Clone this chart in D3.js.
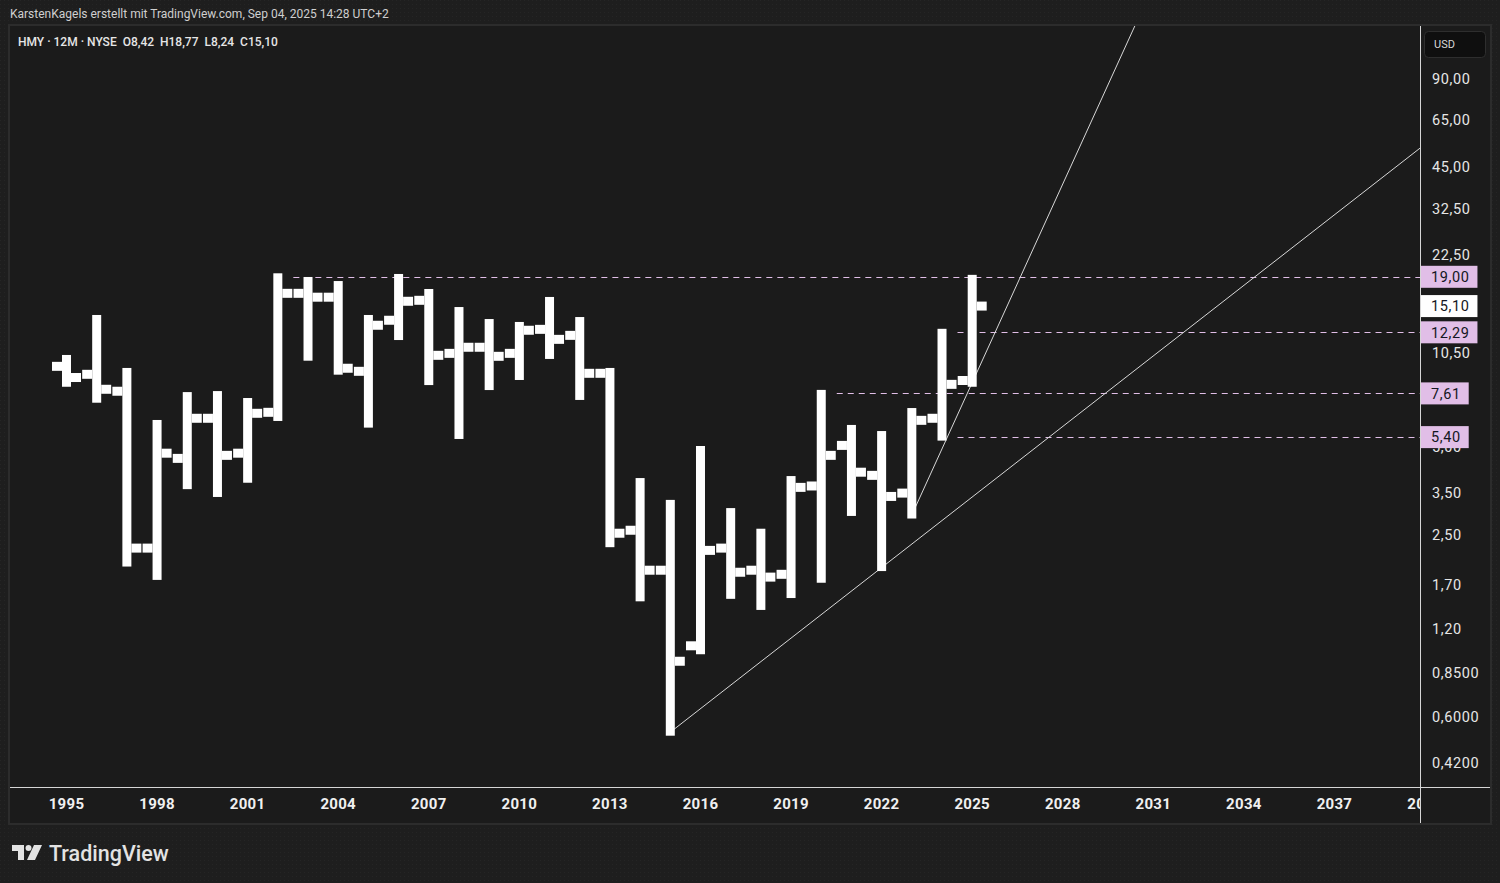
<!DOCTYPE html>
<html><head><meta charset="utf-8">
<script src="https://cdn.jsdelivr.net/npm/d3@7"></script>
<style>
html,body{margin:0;padding:0;background:#1e1e1e;overflow:hidden;}
svg{display:block;}
</style></head><body>
<svg id="c" width="1500" height="883"></svg>
<script>
// ---- data (yearly OHLC, HMY NYSE) ----
const years  = [1995,1996,1997,1998,1999,2000,2001,2002,2003,2004,2005,2006,2007,2008,2009,2010,2011,2012,2013,2014,2015,2016,2017,2018,2019,2020,2021,2022,2023,2024,2025];
const opens  = [9.41,8.84,7.74,2.26,4.57,6.26,4.76,6.56,16.69,16.19,9.05,13.51,15.80,10.42,10.93,10.42,12.58,12.00,8.91,2.60,1.90,1.05,2.26,1.90,1.84,3.68,5.06,4.00,3.48,6.26,8.42];
const highs  = [10.01,13.70,9.04,6.01,7.48,7.54,7.14,19.00,18.46,17.88,13.70,18.90,16.80,14.58,13.27,12.97,15.78,13.48,9.04,3.81,3.21,4.90,3.01,2.56,3.87,7.61,5.78,5.51,6.60,12.29,18.77];
const lows   = [8.24,7.27,2.01,1.81,3.69,3.47,3.88,6.30,10.11,9.06,5.98,11.89,8.35,5.47,8.03,8.69,10.25,7.43,2.34,1.53,0.533,1.01,1.56,1.43,1.57,1.77,2.99,1.94,2.93,5.40,8.24];
const closes = [8.62,7.86,2.26,4.76,6.26,4.68,6.51,16.69,16.19,9.27,12.99,15.68,10.26,10.93,10.18,12.49,11.63,8.91,2.54,1.90,0.93,2.22,1.87,1.80,3.64,4.68,4.10,3.39,6.16,8.17,15.10];

const priceTicks      = [90,65,45,32.5,22.5,10.5,5,3.5,2.5,1.7,1.2,0.85,0.6,0.42];
const priceTickLabels = ["90,00","65,00","45,00","32,50","22,50","10,50","5,00","3,50","2,50","1,70","1,20","0,8500","0,6000","0,4200"];
const yearTicks       = [1995,1998,2001,2004,2007,2010,2013,2016,2019,2022,2025,2028,2031,2034,2037,2040];

// horizontal level rays: price and the year they start from
const levelPrices = [19.00,12.29,7.61,5.40];
const levelFrom   = [2002,2024,2020,2024];
// price-axis tags
const tagPrices = [19.00,15.10,12.29,7.61,5.40];
const tagLabels = ["19,00","15,10","12,29","7,61","5,40"];
const tagKinds  = ["level","last","level","level","level"];
// trend lines: two anchors each (year, price), extended to the right
const trendYearA  = [2015,2023];
const trendPriceA = [0.533,2.93];
const trendYearB  = [2022,2026.58];
const trendPriceB = [1.94,18.82];

const headerText = "KarstenKagels erstellt mit TradingView.com, Sep 04, 2025 14:28 UTC+2";
const legendText = "HMY · 12M · NYSE  O8,42  H18,77  L8,24  C15,10";

// ---- layout ----
const P = {l:10, r:1420, t:26, b:787};
const svg = d3.select("#c");
const FONT = "Roboto, 'Noto Sans', sans-serif";

const x = d3.scaleLinear().domain([1995,2037]).range([66.5,66.5+42*30.19]);
const y = d3.scaleLog().domain([90,0.42]).range([78.6,78.6+Math.log(90/0.42)*127.43]);

// outer background
svg.append("rect").attr("width",1500).attr("height",883).attr("fill","#1e1e1e");
const defs = svg.append("defs");
const pat = defs.append("pattern").attr("id","dots").attr("width",4).attr("height",4).attr("patternUnits","userSpaceOnUse");
pat.append("rect").attr("width",1).attr("height",1).attr("fill","#252525");
svg.append("rect").attr("width",1500).attr("height",883).attr("fill","url(#dots)");

// frame
svg.append("rect").attr("x",9).attr("y",25).attr("width",1482).attr("height",799)
  .attr("fill","#1b1b1b").attr("stroke","#2c2c2c").attr("stroke-width",2);

defs.append("clipPath").attr("id","pane").append("rect")
  .attr("x",P.l).attr("y",P.t).attr("width",P.r-P.l).attr("height",P.b-P.t);
const pane = svg.append("g").attr("clip-path","url(#pane)");

// level rays
levelPrices.forEach((p,i)=>{
  pane.append("line")
    .attr("x1",x(levelFrom[i])+14.5+1).attr("x2",P.r)
    .attr("y1",Math.round(y(p))+0.5).attr("y2",Math.round(y(p))+0.5)
    .attr("stroke","#e1bee7").attr("stroke-width",1).attr("stroke-dasharray","6,5");
});

// trend lines
trendYearA.forEach((_,i)=>{
  const x1=x(trendYearA[i]), y1=y(trendPriceA[i]);
  const x2=x(trendYearB[i]), y2=y(trendPriceB[i]);
  const k=(y2-y1)/(x2-x1);
  const xe=1600, ye=y1+k*(xe-x1);
  pane.append("line").attr("x1",x1).attr("y1",y1).attr("x2",xe).attr("y2",ye)
    .attr("stroke","#d8d8d8").attr("stroke-width",1);
});

// OHLC bars
const bw=9, tl=10, ext=3.5;
const bars = pane.append("g").attr("fill","#ffffff");
years.forEach((yr,i)=>{
  const cx=x(yr);
  bars.append("rect").attr("x",cx-bw/2).attr("y",y(highs[i])-ext)
    .attr("width",bw).attr("height",y(lows[i])-y(highs[i])+2*ext);
  bars.append("rect").attr("x",cx-bw/2-tl).attr("y",y(opens[i])-bw/2).attr("width",tl).attr("height",bw);
  bars.append("rect").attr("x",cx+bw/2).attr("y",y(closes[i])-bw/2).attr("width",tl).attr("height",bw);
});

// axes lines
svg.append("line").attr("x1",P.r+0.5).attr("x2",P.r+0.5).attr("y1",P.t).attr("y2",823).attr("stroke","#d6d6d6");
svg.append("line").attr("x1",P.l).attr("x2",1490).attr("y1",P.b+0.5).attr("y2",P.b+0.5).attr("stroke","#d6d6d6");

// price tick labels
const pl = svg.append("g").attr("font-family",FONT).attr("font-size",14.5).attr("fill","#e6e6e6")
  .attr("letter-spacing","0.6px");
priceTicks.forEach((p,i)=>{
  pl.append("text").attr("x",1432).attr("y",y(p)).attr("dy","0.36em").text(priceTickLabels[i]);
});

// price tags
tagPrices.forEach((p,i)=>{
  const g=svg.append("g");
  const t=g.append("text").attr("x",1431).attr("y",y(p)).attr("dy","0.36em")
    .attr("font-family",FONT).attr("font-size",14.5).attr("letter-spacing","0.6px")
    .attr("fill","#131722").text(tagLabels[i]);
  const w=t.node().getComputedTextLength();
  g.insert("rect","text").attr("x",1421).attr("y",y(p)-11).attr("width",w+18).attr("height",22)
    .attr("fill",tagKinds[i]==="last"?"#ffffff":"#e1bee7");
});

// USD button
svg.append("rect").attr("x",1424.5).attr("y",31.5).attr("width",61).attr("height",26).attr("rx",4)
  .attr("fill","#0f0f0f").attr("stroke","#2e2e2e");
svg.append("text").attr("x",1434).attr("y",44.5).attr("dy","0.35em").attr("font-family",FONT)
  .attr("font-size",11).attr("fill","#d8d8d8").text("USD");

// time axis labels
defs.append("clipPath").attr("id","timeclip").append("rect").attr("x",P.l).attr("y",P.b+1).attr("width",P.r-P.l).attr("height",35);
const tg = svg.append("g").attr("clip-path","url(#timeclip)");
yearTicks.forEach(yr=>{
  tg.append("text").attr("x",x(yr)).attr("y",804).attr("dy","0.36em").attr("text-anchor","middle")
    .attr("font-family",FONT).attr("font-size",15).attr("font-weight",700).attr("letter-spacing","0.3px")
    .attr("fill","#f0f0f0").text(yr);
});

// header + legend
svg.append("text").attr("x",10).attr("y",14).attr("dy","0.35em").attr("font-family",FONT)
  .attr("font-size",12).attr("fill","#cfcfcf").text(headerText);
svg.append("text").attr("x",18).attr("y",42).attr("dy","0.35em").attr("font-family",FONT)
  .attr("font-size",12).attr("font-weight",500).attr("fill","#e6e6e6").attr("xml:space","preserve")
  .style("white-space","pre").text(legendText);

// TradingView logo
const lg = svg.append("g").attr("fill","#e3e3e3");
lg.append("path").attr("d","M12,845 H24 V860 H18 V851 H12 Z");
lg.append("circle").attr("cx",28.5).attr("cy",848).attr("r",3);
lg.append("path").attr("d","M34,845 H42 L35,860 H27 Z");
svg.append("text").attr("x",49).attr("y",853).attr("dy","0.36em").attr("font-family",FONT)
  .attr("font-size",21.5).attr("font-weight",500).attr("fill","#e3e3e3").text("TradingView");
</script>
</body></html>
